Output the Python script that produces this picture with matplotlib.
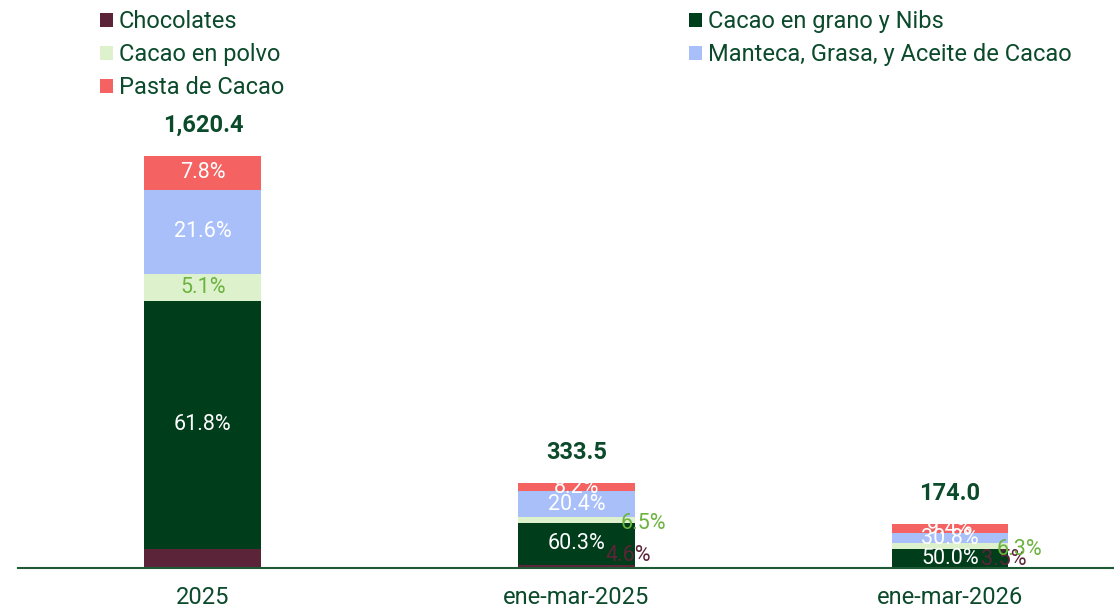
import matplotlib
matplotlib.use("Agg")
import matplotlib.pyplot as plt
from matplotlib.patches import Patch
import numpy as np

plt.rcParams['font.family'] = ['Roboto', 'DejaVu Sans']

categories = ["2025", "ene-mar-2025", "ene-mar-2026"]
totals = [1620.4, 333.5, 174.0]
series_names = ["Chocolates", "Cacao en grano y Nibs", "Cacao en polvo",
                "Manteca, Grasa, y Aceite de Cacao", "Pasta de Cacao"]

# segment heights as drawn in the reference (thousands)
chocolates_vals = [74.5, 11.7, 0.5]
grano_vals = [977.1, 166.8, 72.9]
polvo_vals = [105.3, 21.0, 23.1]
manteca_vals = [330.6, 102.7, 40.5]
pasta_vals = [132.9, 31.3, 37.0]

# share labels as printed in the reference (%)
chocolates_pct = [3.7, 4.6, 3.5]
grano_pct = [61.8, 60.3, 50.0]
polvo_pct = [5.1, 6.5, 6.3]
manteca_pct = [21.6, 20.4, 30.8]
pasta_pct = [7.8, 8.2, 9.4]

values = {
    "Chocolates": chocolates_vals,
    "Cacao en grano y Nibs": grano_vals,
    "Cacao en polvo": polvo_vals,
    "Manteca, Grasa, y Aceite de Cacao": manteca_vals,
    "Pasta de Cacao": pasta_vals,
}
shares = {
    "Chocolates": chocolates_pct,
    "Cacao en grano y Nibs": grano_pct,
    "Cacao en polvo": polvo_pct,
    "Manteca, Grasa, y Aceite de Cacao": manteca_pct,
    "Pasta de Cacao": pasta_pct,
}
colors = {
    "Chocolates": "#5C2438",
    "Cacao en grano y Nibs": "#003D1B",
    "Cacao en polvo": "#DDF2CC",
    "Manteca, Grasa, y Aceite de Cacao": "#A8BFFA",
    "Pasta de Cacao": "#F46262",
}
label_colors = {
    "Chocolates": "#5C2438",
    "Cacao en grano y Nibs": "white",
    "Cacao en polvo": "#6CB33F",
    "Manteca, Grasa, y Aceite de Cacao": "white",
    "Pasta de Cacao": "white",
}
# label offsets in points (dx, dy); None = hidden
offsets = {
    "Chocolates": [None, (37, 8), (39, 6)],
    "Cacao en grano y Nibs": [(0, 0), (0, 0), (0, 0)],
    "Cacao en polvo": [(0, 0), (48, -2.5), (50, -2)],
    "Manteca, Grasa, y Aceite de Cacao": [(0, 0), (0, 0), (0, 0)],
    "Pasta de Cacao": [(0, 0), (0, 0), (0, 0)],
}

text_color = "#0B4A2A"

fig = plt.figure(figsize=(11.14, 6.10), dpi=100)
ax = fig.add_axes([18/1114, 42/610, 1 - 18/1114, 468/610])

x = np.arange(len(categories))
width = 0.313
bottom = np.zeros(len(categories))
for name in series_names:
    vals = np.array(values[name])
    ax.bar(x, vals, width, bottom=bottom, color=colors[name], linewidth=0)
    for i in range(len(categories)):
        off = offsets[name][i]
        if off is None:
            continue
        ax.annotate(f"{shares[name][i]:.1f}%", (x[i], bottom[i] + vals[i] / 2),
                    xytext=off, textcoords="offset points", ha="center",
                    va="center", fontsize=15.5, color=label_colors[name])
    bottom += vals

for i, t in enumerate(totals):
    ax.annotate(f"{t:,.1f}", (x[i], t), xytext=(0, 22), textcoords="offset points",
                ha="center", va="center", fontsize=17, fontweight="bold",
                color=text_color)

ax.set_xlim(-0.495, 2.439)
ax.set_ylim(0, 1620.4 * 468 / 412)
ax.set_xticks(x)
ax.set_xticklabels(categories, fontsize=17, color=text_color)
ax.tick_params(axis="x", length=0, pad=13)
ax.set_yticks([])
for s in ["top", "right", "left"]:
    ax.spines[s].set_visible(False)
ax.spines["bottom"].set_color("#1E5A35")
ax.spines["bottom"].set_linewidth(1.5)

def mk_leg(names, anchor):
    handles = [Patch(facecolor=colors[n], edgecolor="none", label=n) for n in names]
    leg = fig.legend(handles=handles, loc="upper left", bbox_to_anchor=anchor,
                     frameon=False, fontsize=17, handlelength=0.55, handleheight=0.55,
                     handletextpad=0.25, labelspacing=0.43, borderaxespad=0, borderpad=0)
    for t in leg.get_texts():
        t.set_color(text_color)
    return leg

mk_leg(["Chocolates", "Cacao en polvo", "Pasta de Cacao"], (100/1114, 1 - 10/610))
mk_leg(["Cacao en grano y Nibs", "Manteca, Grasa, y Aceite de Cacao"], (689/1114, 1 - 10/610))

fig.savefig("out.png", dpi=100)
